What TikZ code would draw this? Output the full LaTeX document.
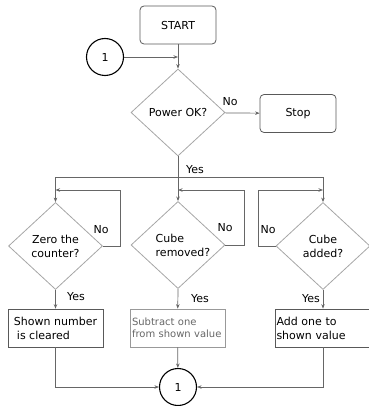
\documentclass[tikz,border=0pt]{standalone}
\usepackage{fontspec}
\setmainfont{DejaVu Sans}
\usetikzlibrary{shapes.geometric, arrows.meta}
\tikzset{
  terminal/.style={
    draw=black!65,
    rounded corners=4pt,
    line width=0.8pt,
    minimum width=76pt,
    minimum height=38pt,
  },
  decision/.style={
    diamond,
    draw=black!35,
    line width=0.8pt,
    inner sep=0pt,
    minimum width=94pt,
    minimum height=87pt,
    align=center,
  },
  process/.style={
    draw=black!65,
    line width=0.7pt,
    minimum width=95pt,
    minimum height=38pt,
    align=left,
  },
  connector/.style={
    circle,
    draw=black,
    line width=1.1pt,
    minimum size=37pt,
    inner sep=0pt,
  },
  flow/.style={draw=black!60, line width=0.7pt},
  tag/.style={inner sep=1pt},
}

\begin{document}
\begin{tikzpicture}[x=1pt, y=-1pt, >={Stealth[length=4.5pt, width=3.5pt]},
    font=\fontsize{11}{14}\selectfont]
        \useasboundingbox (0,0) rectangle (368,406);

        \node[terminal] (start) at (178,25) {START};
        \node[connector] (contop) at (105,57) {1};
        \node[decision] (power) at (178,112.5) {Power OK?};
        \node[terminal] (stop) at (298,113.5) {Stop};

        \node[decision] (zero)    at (55.5,246) {Zero the\\counter?};
        \node[decision, align=left] (removed) at (178,245)
          {\hspace*{10pt}Cube\\\hspace*{10pt}removed?};
        \node[decision] (added)   at (323,246) {Cube\\added?};

        \node[process] (cleared) at (55.5,328) {Shown number\\\hspace*{3pt}is cleared};
        \node[process, draw=black!40, text=black!60, text width=91pt, inner sep=2pt,
          font=\fontsize{10}{11.5}\selectfont] (subtract) at (177.5,328) {Subtract one\\from shown value};
        \node[process, text width=93pt, inner sep=1pt] (addone) at (323,328) {Add one to\\shown value};
        \node[connector] (conbot) at (178,387) {1};

        \coordinate (join)  at (178,57);
        \coordinate (split) at (178,177);
        \coordinate (zturn) at (120,190);
        \coordinate (ztop)  at (55.5,190);
        \coordinate (rturn) at (244,190);
        \coordinate (rtop)  at (178,190);
        \coordinate (aturn) at (258,190);
        \coordinate (atop)  at (323,190);

        \draw[flow, ->] (contop) -- (join);
        \draw[flow, ->] (start) -- (power);
        \draw[flow, ->] (power) -- (stop);
        \node[tag] at (230,102) {No};

        \draw[flow] (power.south) -- (split);
        \node[tag] at (195,170) {Yes};
        \draw[flow, ->] (split) -| (zero.north);
        \draw[flow, ->] (split) -| (added.north);
        \draw[flow, ->] (split) -- (removed.north);

        \draw[flow, ->] (zero.east) -| (zturn) -- (ztop);
        \node[tag] at (101,230) {No};
        \draw[flow, ->] (removed.east) -| (rturn) -- (rtop);
        \node[tag] at (225,228) {No};
        \draw[flow, ->] (added.west) -| (aturn) -- (atop);
        \node[tag] at (268,230) {No};

        \draw[flow, ->] (zero.south) -- (cleared);
        \node[tag] at (76,297) {Yes};
        \draw[flow, ->] (removed.south) -- (subtract);
        \node[tag] at (200,299) {Yes};
        \draw[flow, ->] (added.south) -- (addone);
        \node[tag] at (311,299) {Yes};

        \draw[flow, ->] (cleared) |- (conbot);
        \draw[flow, ->] (subtract) -- (conbot);
        \draw[flow, ->] (addone) |- (conbot);
      \end{tikzpicture}
\end{document}
